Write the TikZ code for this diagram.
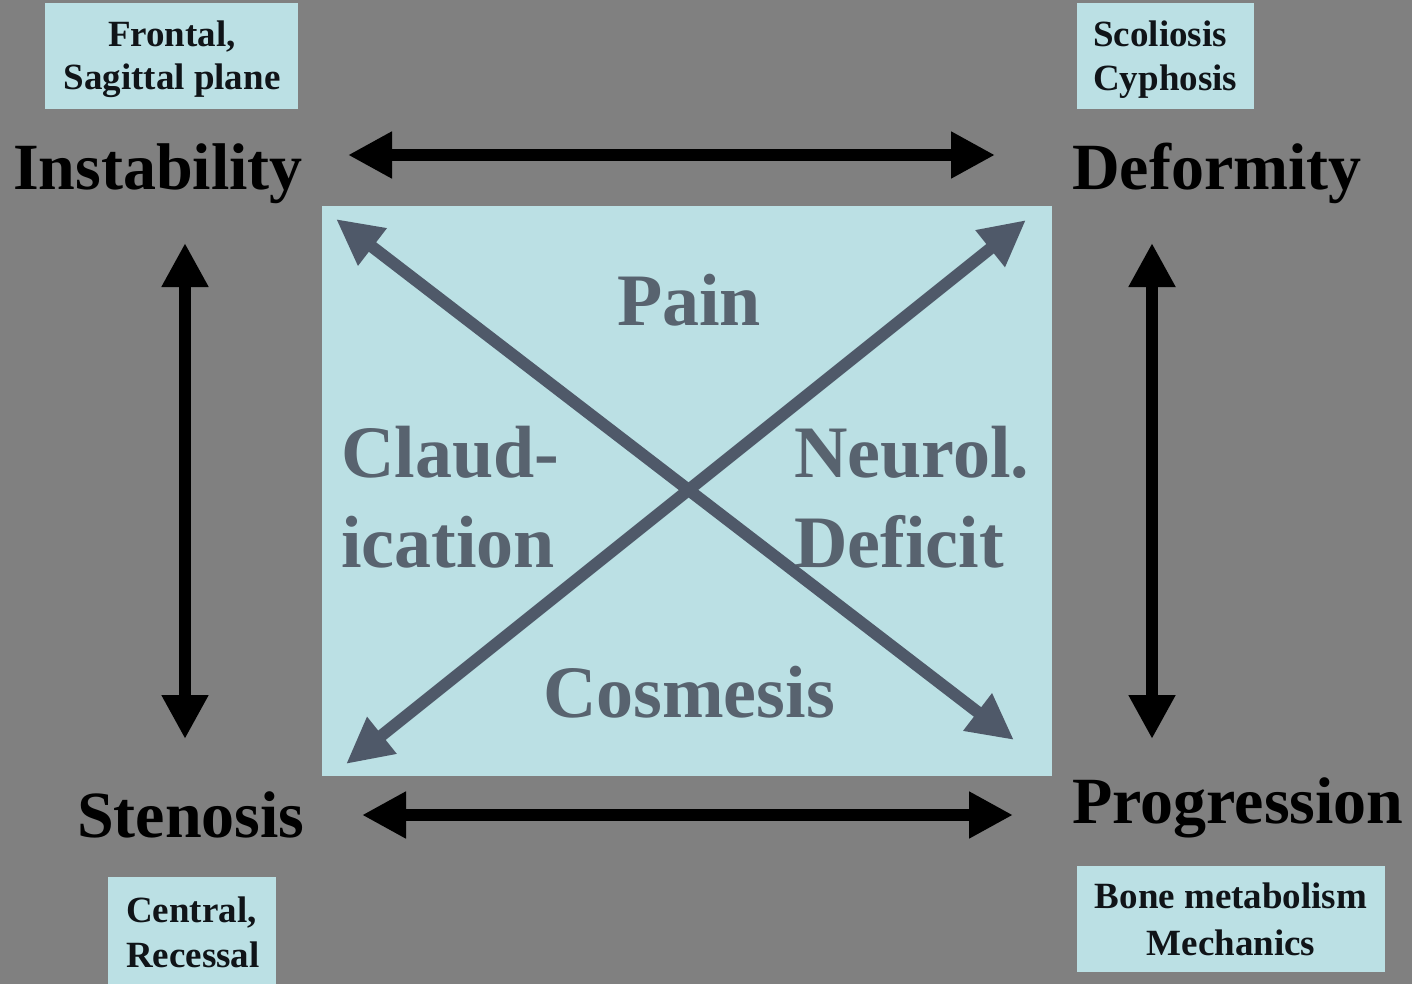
\documentclass[tikz,border=0pt]{standalone}
\usepackage{fontspec}
\setmainfont{Liberation Serif}
\usetikzlibrary{arrows.meta}
\definecolor{bg}{HTML}{808080}
\definecolor{lightbox}{HTML}{BBE0E4}
\definecolor{diag}{HTML}{4F5969}
\definecolor{ctext}{HTML}{58636F}
\definecolor{stext}{HTML}{101418}
\tikzset{
  bigl/.style={anchor=base west,inner sep=0pt,font=\fontsize{66}{70}\selectfont\bfseries,text=black},
  smalll/.style={inner sep=0pt,font=\fontsize{37}{44}\selectfont\bfseries,text=stext},
  centerl/.style={inner sep=0pt,font=\fontsize{74}{80}\selectfont\bfseries,text=ctext},
  lbox/.style={fill=lightbox,draw=none},
  blackarrow/.style={line width=12pt,draw=black,{Triangle[length=44pt,width=44pt]}-{Triangle[length=44pt,width=44pt]}},
  diagarrow/.style={line width=12pt,draw=diag,{Triangle[length=46pt,width=44pt]}-{Triangle[length=46pt,width=44pt]}}
}
\begin{document}
\begin{tikzpicture}[x=1pt,y=-1pt]
\fill[bg] (0,0) rectangle (1412,984);
\useasboundingbox (0,0) rectangle (1412,984);
% central box
\fill[lightbox] (322,206) rectangle (1052,776);
% small boxes
\fill[lbox] (45,3) rectangle (298,109);
\fill[lbox] (1077,3) rectangle (1254,109);
\fill[lbox] (108,877) rectangle (276,984);
\fill[lbox] (1077,866) rectangle (1385,972);
% small texts
\node[smalll,anchor=base] (fr1) at (172,47) {Frontal,};
\node[smalll,anchor=base] (fr2) at (172,90) {Sagittal plane};
\node[smalll,anchor=base west] (sc1) at (1093,47) {Scoliosis};
\node[smalll,anchor=base west] (sc2) at (1093,91) {Cyphosis};
\node[smalll,anchor=base west] (ce1) at (126,922) {Central,};
\node[smalll,anchor=base west] (ce2) at (126,967) {Recessal};
\node[smalll,anchor=base] (bo1) at (1231,908) {Bone metabolism};
\node[smalll,anchor=base] (bo2) at (1231,955) {Mechanics};
% big labels
\node[bigl] (inst) at (13,190) {Instability};
\node[bigl] (defo) at (1072,190) {Deformity};
\node[bigl] (sten) at (77,837) {Stenosis};
\node[bigl] (prog) at (1072,823) {Progression};
% arrow end coordinates
\coordinate (hTL) at (348,155);
\coordinate (hTR) at (995,155);
\coordinate (hBL) at (362,815);
\coordinate (hBR) at (1013,815);
\coordinate (vLT) at (185,243);
\coordinate (vLB) at (185,739);
\coordinate (vRT) at (1152,243);
\coordinate (vRB) at (1152,739);
\coordinate (dTL) at (336,219);
\coordinate (dBR) at (1014,740);
\coordinate (dTR) at (1026,220);
\coordinate (dBL) at (346,764);
% black arrows
\draw[blackarrow] (hTL) -- (hTR);
\draw[blackarrow] (hBL) -- (hBR);
\draw[blackarrow] (vLT) -- (vLB);
\draw[blackarrow] (vRT) -- (vRB);
% center texts
\node[centerl,anchor=base] (pain) at (689,325) {Pain};
\node[centerl,anchor=base west] (cl1) at (341,477) {Claud-};
\node[centerl,anchor=base west] (cl2) at (341,567) {ication};
\node[centerl,anchor=base west] (ne1) at (794,477) {Neurol.};
\node[centerl,anchor=base west] (ne2) at (794,567) {Deficit};
\node[centerl,anchor=base] (cos) at (689,717) {Cosmesis};
% diagonal arrows
\draw[diagarrow] (dTL) -- (dBR);
\draw[diagarrow] (dTR) -- (dBL);
\end{tikzpicture}
\end{document}
